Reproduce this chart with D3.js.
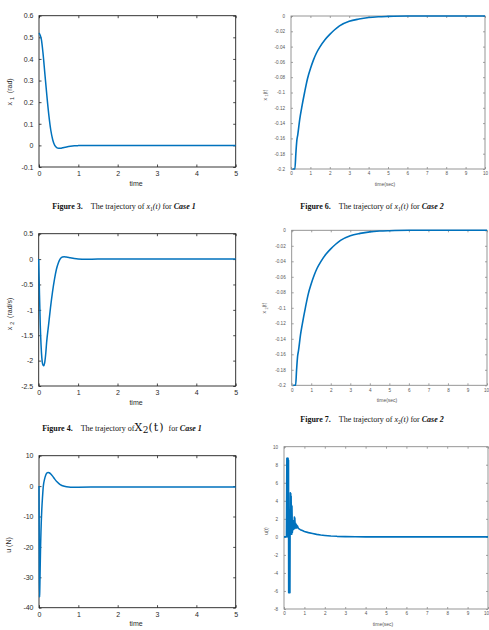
<!DOCTYPE html>
<html>
<head>
<meta charset="utf-8">
<script src="https://cdn.jsdelivr.net/npm/d3@7"></script>
<style>
body{margin:0;background:#fff;}
svg{display:block;}
text{white-space:pre;}
</style>
</head>
<body>
<div id="chart"></div>
<script>
// ---------- Case 1 (left column), time 0..5 ----------
var tX1Case1 = [0, 0.03, 0.06, 0.1, 0.15, 0.2, 0.25, 0.3, 0.35, 0.4, 0.45, 0.5, 0.55, 0.6, 0.7, 0.8, 0.9, 1.0, 1.2, 1.5, 2, 3, 4, 5];
var x1Case1  = [0.52, 0.51, 0.49, 0.43, 0.33, 0.23, 0.14, 0.07, 0.025, 0.0, -0.01, -0.013, -0.013, -0.011, -0.007, -0.004, -0.002, -0.001, 0, 0, 0, 0, 0, 0];

var tX2Case1 = [0, 0.02, 0.04, 0.06, 0.08, 0.1, 0.12, 0.13, 0.15, 0.18, 0.2, 0.25, 0.3, 0.35, 0.4, 0.45, 0.5, 0.55, 0.6, 0.65, 0.7, 0.8, 0.9, 1.0, 1.2, 1.5, 2, 3, 4, 5];
var x2Case1  = [0, -0.7, -1.3, -1.7, -1.95, -2.07, -2.1, -2.1, -2.05, -1.85, -1.65, -1.3, -0.95, -0.65, -0.4, -0.2, -0.07, 0.01, 0.04, 0.045, 0.04, 0.025, 0.01, 0.0, -0.005, 0, 0, 0, 0, 0];

var tUCase1 = [0, 0.005, 0.01, 0.015, 0.02, 0.03, 0.04, 0.05, 0.07, 0.09, 0.11, 0.14, 0.17, 0.2, 0.23, 0.26, 0.3, 0.35, 0.4, 0.45, 0.5, 0.55, 0.6, 0.7, 0.8, 0.9, 1.0, 1.5, 2, 3, 4, 5];
var uCase1  = [0, -15, -30, -36.5, -34, -27, -20, -15, -8, -3.5, 0, 2.2, 3.6, 4.3, 4.5, 4.4, 4.0, 3.2, 2.3, 1.5, 0.9, 0.4, 0.1, -0.25, -0.4, -0.4, -0.35, -0.3, -0.3, -0.3, -0.3, -0.3];

// ---------- Case 2 (right column), time 0..10 ----------
var tXCase2 = [0.08, 0.2, 0.25, 0.3, 0.35, 0.45, 0.55, 0.7, 0.85, 1.0, 1.15, 1.3, 1.5, 1.75, 2.0, 2.25, 2.5, 3.0, 3.5, 4.0, 4.5, 5, 6, 7, 8, 9, 10];
var x1Case2 = [-0.2, -0.2, -0.18, -0.163, -0.155, -0.135, -0.12, -0.1, -0.082, -0.069, -0.058, -0.049, -0.04, -0.031, -0.024, -0.018, -0.013, -0.007, -0.004, -0.002, -0.001, -0.0005, 0, 0, 0, 0, 0];
var x2Case2 = [-0.2, -0.2, -0.18, -0.163, -0.155, -0.135, -0.12, -0.1, -0.082, -0.069, -0.058, -0.049, -0.04, -0.031, -0.024, -0.018, -0.013, -0.007, -0.004, -0.002, -0.001, -0.0005, 0, 0, 0, 0, 0];

var tUCase2 = [0, 0.12, 0.14, 0.15, 0.16, 0.17, 0.18, 0.19, 0.2, 0.21, 0.22, 0.23, 0.24, 0.25, 0.26, 0.27, 0.28, 0.29, 0.3, 0.31, 0.32, 0.33, 0.34, 0.35, 0.36, 0.37, 0.38, 0.39, 0.41, 0.43, 0.45, 0.47, 0.49, 0.51, 0.52, 0.53, 0.55, 0.57, 0.59, 0.61, 0.63, 0.66, 0.7, 0.8, 0.9, 1.0, 1.2, 1.4, 1.6, 1.8, 2.0, 2.3, 2.6, 3.0, 3.5, 4, 5, 6, 7, 8, 9, 10];
var uCase2  = [0, 0, 8.7, 1, 8.7, 0, 8.7, 2, 8.7, 1, 8.5, -6.2, 2, -6.2, 1, -6.2, 3, -6.2, 2, 4.9, 0.5, 4.8, 0.3, 4.5, 0.5, 3.5, 0.3, 3.4, 0.5, 1.5, 0.8, 1.8, 0.9, 2.2, 0.9, 2.1, 1.0, 1.5, 1.0, 1.35, 1.0, 1.2, 0.95, 0.8, 0.7, 0.6, 0.47, 0.37, 0.28, 0.21, 0.16, 0.1, 0.06, 0.03, 0.01, 0, 0, 0, 0, 0, 0, 0];

// ---------- tick labels ----------
var xTicksCase1 = [0, 1, 2, 3, 4, 5];
var xTicksCase2 = [0, 1, 2, 3, 4, 5, 6, 7, 8, 9, 10];
var yTicksX1Case1 = [-0.1, 0, 0.1, 0.2, 0.3, 0.4, 0.5, 0.6];
var yTicksX2Case1 = [-2.5, -2, -1.5, -1, -0.5, 0, 0.5];
var yTicksUCase1 = [-40, -30, -20, -10, 0, 10];
var yTicksXCase2 = [-0.2, -0.18, -0.16, -0.14, -0.12, -0.1, -0.08, -0.06, -0.04, -0.02, 0];
var yTicksUCase2 = [-8, -6, -4, -2, 0, 2, 4, 6, 8, 10];

var zip = function(ts, vs){ return ts.map(function(t, i){ return [t, vs[i]]; }); };
var fmt = function(d){ return String(+d.toFixed(2)); };
var W = 489, H = 630;

var svg = d3.select('#chart').append('svg')
    .attr('width', W)
    .attr('height', H);

var styles = {
    matlab: {stroke: '#1f1f1f', label: '#2a2a2a', font: 7, axisFont: 7, tickLen: 2.5, padX: 4, padY: 5.5, lw: 1.5},
    octave: {stroke: '#8a8a8a', label: '#555', font: 4.6, axisFont: 5, tickLen: 2, padX: 3, padY: 6, lw: 1.6}
};

var panel = function(p){
    var s = styles[p.style];
    var g = svg.append('g');
    var x = d3.scaleLinear().domain(p.xDomain).range([p.x0, p.x1]);
    var y = d3.scaleLinear().domain(p.yDomain).range([p.y1, p.y0]);

    var axes = [
        {gen: d3.axisBottom(x).tickValues(p.xTicks).tickFormat(fmt).tickPadding(s.padX), tr: [0, p.y1]},
        {gen: d3.axisTop(x).tickValues(p.xTicks).tickFormat(''), tr: [0, p.y0]},
        {gen: d3.axisLeft(y).tickValues(p.yTicks).tickFormat(fmt).tickPadding(s.padY), tr: [p.x0, 0]},
        {gen: d3.axisRight(y).tickValues(p.yTicks).tickFormat(''), tr: [p.x1, 0]}
    ];
    axes.forEach(function(a, i){
        var ag = g.append('g')
            .attr('transform', 'translate(' + a.tr[0] + ',' + a.tr[1] + ')')
            .call(a.gen.tickSizeInner(-s.tickLen).tickSizeOuter(0));
        ag.select('.domain').remove();
        ag.selectAll('line').attr('stroke', s.stroke).attr('stroke-width', 0.8);
        ag.selectAll('text')
            .attr('fill', s.label)
            .style('font-family', '"Liberation Sans", Arial, sans-serif')
            .style('font-size', s.font + 'px');
        // keep a bottom label that would run past the page edge inside it
        if (i === 0) {
            ag.selectAll('.tick text').each(function(d){
                if (x(d) + 3 > W) d3.select(this).attr('text-anchor', 'end').attr('dx', W - 0.5 - x(d));
            });
        }
    });

    g.append('rect')
        .attr('x', p.x0).attr('y', p.y0)
        .attr('width', p.x1 - p.x0).attr('height', p.y1 - p.y0)
        .attr('fill', 'none')
        .attr('stroke', s.stroke)
        .attr('stroke-width', 0.9);

    var line = d3.line()
        .x(function(d){ return x(d[0]); })
        .y(function(d){ return y(d[1]); })
        .curve(p.smooth ? d3.curveMonotoneX : d3.curveLinear);

    g.append('path')
        .datum(zip(p.t, p.v))
        .attr('d', line)
        .attr('fill', 'none')
        .attr('stroke', '#0072BD')
        .attr('stroke-width', s.lw)
        .attr('stroke-linejoin', 'round');

    // x label
    g.append('text')
        .attr('x', p.xl[0]).attr('y', p.xl[1])
        .attr('text-anchor', 'middle')
        .attr('fill', s.label)
        .style('font-family', '"Liberation Sans", Arial, sans-serif')
        .style('font-size', s.axisFont + 'px')
        .text(p.xlabel);

    // y label, rotated, with subscript
    var yl = g.append('text')
        .attr('transform', 'translate(' + p.yl[0] + ',' + p.yl[1] + ') rotate(-90)')
        .attr('text-anchor', 'middle')
        .attr('fill', s.label)
        .style('font-family', '"Liberation Sans", Arial, sans-serif')
        .style('font-size', s.axisFont + 'px');
    yl.append('tspan').text(p.ylabel[0]);
    if (p.ylabel[1]) {
        yl.append('tspan').attr('dy', s.axisFont * 0.35).attr('dx', s.axisFont * 0.3)
            .style('font-size', (s.axisFont * 0.75) + 'px').text(p.ylabel[1]);
        yl.append('tspan').attr('dy', -s.axisFont * 0.35).text(p.ylabel[2]);
    }
};

var caption = function(cx, cy, parts){
    var t = svg.append('text')
        .attr('x', cx).attr('y', cy)
        .attr('text-anchor', 'middle')
        .attr('fill', '#111')
        .style('font-family', '"Liberation Serif", "Times New Roman", serif')
        .style('font-size', '8px');
    parts.forEach(function(p){
        var sp = t.append('tspan').text(p.text);
        if (p.bold) sp.style('font-weight', 'bold');
        if (p.italic) sp.style('font-style', 'italic');
        if (p.size) sp.style('font-size', p.size + 'px');
        if (p.family) sp.style('font-family', p.family);
        if (p.dx) sp.attr('dx', p.dx);
        if (p.dy) sp.attr('dy', p.dy);
        if (p.ls) sp.style('letter-spacing', p.ls + 'px');
    });
};

// ---------- panels ----------
panel({style: 'matlab', x0: 39, x1: 235.7, y0: 15.7, y1: 167, xDomain: [0, 5], yDomain: [-0.1, 0.6],
       xTicks: xTicksCase1, yTicks: yTicksX1Case1, t: tX1Case1, v: x1Case1, smooth: true,
       xlabel: 'time', xl: [136, 186], ylabel: ['x', '1', '  (rad)'], yl: [11.5, 92]});

panel({style: 'octave', x0: 291, x1: 485, y0: 16, y1: 169, xDomain: [0, 10], yDomain: [-0.2, 0],
       xTicks: xTicksCase2, yTicks: yTicksXCase2, t: tXCase2, v: x1Case2, smooth: true,
       xlabel: 'time(sec)', xl: [385, 186], ylabel: ['x', '1', '(t)'], yl: [266.5, 95]});

panel({style: 'matlab', x0: 38.7, x1: 235.7, y0: 233.7, y1: 386, xDomain: [0, 5], yDomain: [-2.5, 0.5],
       xTicks: xTicksCase1, yTicks: yTicksX2Case1, t: tX2Case1, v: x2Case1, smooth: true,
       xlabel: 'time', xl: [136, 405], ylabel: ['x', '2', '  (rad/s)'], yl: [11.5, 314]});

panel({style: 'octave', x0: 291.7, x1: 487, y0: 230.3, y1: 385.3, xDomain: [0, 10], yDomain: [-0.2, 0],
       xTicks: xTicksCase2, yTicks: yTicksXCase2, t: tXCase2, v: x2Case2, smooth: true,
       xlabel: 'time(sec)', xl: [387, 402], ylabel: ['x', '2', '(t)'], yl: [266, 308]});

panel({style: 'matlab', x0: 39, x1: 235.7, y0: 455.7, y1: 607.7, xDomain: [0, 5], yDomain: [-40, 10],
       xTicks: xTicksCase1, yTicks: yTicksUCase1, t: tUCase1, v: uCase1, smooth: true,
       xlabel: 'time', xl: [136, 626], ylabel: ['u (N)'], yl: [11, 545]});

panel({style: 'octave', x0: 284, x1: 488, y0: 446.7, y1: 609, xDomain: [0, 10], yDomain: [-8, 10],
       xTicks: xTicksCase2, yTicks: yTicksUCase2, t: tUCase2, v: uCase2, smooth: false,
       xlabel: 'time(sec)', xl: [383, 626], ylabel: ['u(t)'], yl: [268, 531]});

// ---------- captions ----------
caption(124, 209, [
    {text: 'Figure 3.', bold: true},
    {text: 'The trajectory of ', dx: 8},
    {text: 'x', italic: true},
    {text: '1', size: 5.5, dy: 1.5},
    {text: '(t)', italic: true, dy: -1.5},
    {text: ' for '},
    {text: 'Case 1', bold: true, italic: true}
]);
caption(372, 209, [
    {text: 'Figure 6.', bold: true},
    {text: 'The trajectory of ', dx: 8},
    {text: 'x', italic: true},
    {text: '1', size: 5.5, dy: 1.5},
    {text: '(t)', italic: true, dy: -1.5},
    {text: ' for '},
    {text: 'Case 2', bold: true, italic: true}
]);
caption(122, 431, [
    {text: 'Figure 4.', bold: true},
    {text: 'The trajectory of', dx: 8},
    {text: 'X', size: 11, family: '"DejaVu Serif", serif', ls: 0.5},
    {text: '2', size: 9, family: '"DejaVu Serif", serif', dy: 2},
    {text: '(t)', size: 11, family: '"DejaVu Serif", serif', dy: -2, ls: 1},
    {text: '  for '},
    {text: 'Case 1', bold: true, italic: true}
]);
caption(372, 422, [
    {text: 'Figure 7.', bold: true},
    {text: 'The trajectory of ', dx: 8},
    {text: 'x', italic: true},
    {text: '2', size: 5.5, dy: 1.5},
    {text: '(t)', italic: true, dy: -1.5},
    {text: ' for '},
    {text: 'Case 2', bold: true, italic: true}
]);
</script>
</body>
</html>
